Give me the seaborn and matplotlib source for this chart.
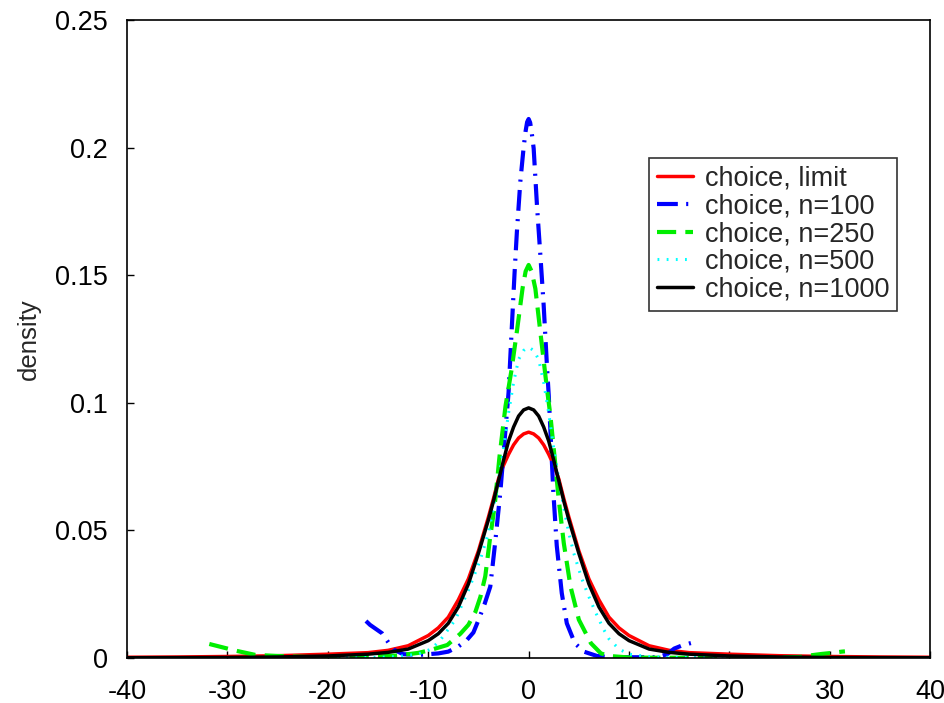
import matplotlib
matplotlib.use("Agg")
import matplotlib.pyplot as plt
import matplotlib.ticker as mticker
import numpy as np
import pandas as pd
import seaborn as sns

sns.set_style("ticks")
plt.rcParams["font.family"] = ["Liberation Sans", "DejaVu Sans"]
plt.rcParams["axes.unicode_minus"] = False

# values
limit_x = [-40, -35, -30, -25, -20, -16, -14, -12, -10, -9, -8, -7, -6, -5, -4, -3.5, -3, -2.5, -2, -1.5, -1, -0.5,
           0, 0.5, 1, 1.5, 2, 2.5, 3, 3.5, 4, 5, 6, 7, 8, 9, 10, 12, 14, 16, 20, 25, 30, 35, 40]
limit_y = [0.0003, 0.0004, 0.0006, 0.0009, 0.0015, 0.0021, 0.003, 0.0048, 0.0088, 0.0118, 0.016, 0.0228, 0.031,
           0.042, 0.0553, 0.0625, 0.0702, 0.0755, 0.0798, 0.0835, 0.0862, 0.0878,
           0.0885, 0.0878, 0.0862, 0.0835, 0.0798, 0.0755, 0.0702, 0.0625, 0.0553, 0.042, 0.031, 0.0228, 0.016,
           0.0118, 0.0088, 0.0048, 0.003, 0.0021, 0.0015, 0.0009, 0.0006, 0.0004, 0.0003]

n100_x = [-16.2, -15.8, -14.6, -13.5, -12.5, -11, -10, -9, -8, -7, -6.14, -5.5, -4.98, -4.4, -3.82, -3.32, -2.82,
          -2.4, -2, -1.67, -1.4, -1.17, -0.83, -0.5, -0.3, -0.15, 0, 0.15, 0.3, 0.5, 0.83, 1.17, 1.5, 1.83, 2.0,
          2.46, 2.8, 3.3, 3.8, 4.6, 5.5, 6.8, 8, 10, 12.8, 13.8, 14.5, 15.2, 16.1, 16.3]
n100_y = [0.0145, 0.013, 0.0097, 0.0034, 0.0015, 0.0012, 0.0015, 0.0018, 0.0025, 0.0045, 0.0071, 0.010, 0.015,
          0.021, 0.028, 0.0457, 0.065, 0.085, 0.104, 0.130, 0.151, 0.167, 0.1866, 0.200, 0.2065, 0.2100, 0.2112,
          0.2098, 0.2060, 0.1997, 0.1773, 0.1577, 0.138, 0.114, 0.103, 0.065, 0.044, 0.0254, 0.0136, 0.0058,
          0.0025, 0.0008, 0.0004, 0.0003, 0.0003, 0.0015, 0.0037, 0.0048, 0.0058, 0.006]

n250_x = [-31.8, -31.4, -29.2, -27.2, -25, -22, -20, -17, -14, -13, -11, -9.8, -8.1, -6.8, -6, -5.31, -4.8, -4.32,
          -3.82, -3.4, -2.9, -2.3, -1.7, -1.17, -0.6, -0.3, 0, 0.3, 0.67, 1.17, 1.83, 2.17, 2.6, 3, 3.5, 4.17, 5,
          6.2, 7.2, 8, 10, 13, 16, 20, 24, 27, 28, 29.2, 30.2, 31.2, 31.5]
n250_y = [0.0055, 0.0051, 0.0029, 0.0012, 0.0008, 0.0004, 0.0002, 0.0003, 0.0008, 0.001, 0.002, 0.0031, 0.0051,
          0.0095, 0.013, 0.018, 0.024, 0.032, 0.0477, 0.059, 0.079, 0.0988, 0.113, 0.128, 0.145, 0.1515, 0.154,
          0.1515, 0.1447, 0.1276, 0.1053, 0.0949, 0.078, 0.062, 0.045, 0.028, 0.015, 0.0058, 0.0018, 0.0008,
          0.0002, 0.0001, 0.0001, 0.0001, 0.0002, 0.0004, 0.001, 0.0016, 0.002, 0.0025, 0.0026]

n500_x = [-20, -15, -13, -11, -9.7, -8.8, -7.3, -5.98, -4.82, -4, -3.5, -3, -2.5, -2, -1.5, -1, -0.5, 0, 0.5, 1,
          1.5, 2, 2.5, 3, 3.5, 4, 4.5, 5.3, 6, 6.7, 7.5, 8, 9, 10, 12, 15, 20]
n500_y = [0.0001, 0.0002, 0.0006, 0.0015, 0.0035, 0.007, 0.015, 0.0267, 0.0385, 0.049, 0.059, 0.070, 0.082, 0.096,
          0.108, 0.117, 0.1205, 0.1218, 0.1205, 0.117, 0.108, 0.096, 0.082, 0.070, 0.059, 0.049, 0.041, 0.031,
          0.024, 0.0176, 0.011, 0.0075, 0.0035, 0.0015, 0.0005, 0.0002, 0.0001]

n1000_x = [-40, -35, -30, -25, -20, -16, -14, -12, -10, -9, -8, -7, -6, -5, -4, -3.5, -3, -2.5, -2, -1.5, -1, -0.5,
           0, 0.5, 1, 1.5, 2, 2.5, 3, 3.5, 4, 5, 6, 7, 8, 9, 10, 12, 14, 16, 20, 25, 30, 35, 40]
n1000_y = [0.0001, 0.00015, 0.0002, 0.0004, 0.0008, 0.0015, 0.0022, 0.0035, 0.0068, 0.0095, 0.0136, 0.020, 0.029,
           0.041, 0.0542, 0.0615, 0.0695, 0.0775, 0.085, 0.0905, 0.0948, 0.0972,
           0.098, 0.0972, 0.0948, 0.0905, 0.085, 0.0775, 0.0695, 0.0615, 0.0542, 0.041, 0.029, 0.020, 0.0136,
           0.0095, 0.0068, 0.0035, 0.0022, 0.0015, 0.0008, 0.0004, 0.0002, 0.00015, 0.0001]

labels = ["choice, limit", "choice, n=100", "choice, n=250", "choice, n=500", "choice, n=1000"]
colors = ["#ff0000", "#0000ff", "#00ee00", "#00ffff", "#000000"]
styles = ["-", (0, (5.0, 2.0, 0.5, 2.0)), (0, (4.6, 2.2)), (0, (0.6, 2.4)), "-"]
widths = [2.5, 3.0, 3.0, 2.2, 2.5]

series = [(limit_x, limit_y), (n100_x, n100_y), (n250_x, n250_y), (n500_x, n500_y), (n1000_x, n1000_y)]

fig = plt.figure(figsize=(9.44, 7.03), dpi=100)
ax = fig.add_axes([0.1345, 0.064, 0.851, 0.9076])

for (xs, ys), lab, col, ls, lw in zip(series, labels, colors, styles, widths):
    df = pd.DataFrame({"x": xs, "y": ys})
    sns.lineplot(data=df, x="x", y="y", ax=ax, color=col, linestyle=ls, linewidth=lw,
                 label=lab, estimator=None, sort=False)

ax.set_xlim(-40, 40)
ax.set_ylim(0, 0.25)
ax.set_xticks(np.arange(-40, 41, 10))
ax.set_yticks([0, 0.05, 0.1, 0.15, 0.2, 0.25])
ax.yaxis.set_major_formatter(mticker.FuncFormatter(lambda v, p: "%g" % round(v, 3)))
ax.tick_params(direction="in", length=5, width=1, labelsize=19.5, colors="black")
ax.tick_params(axis="x", pad=15)
ax.tick_params(axis="y", pad=14)
ax.set_xlabel("")
ax.set_ylabel("density", fontsize=18.5, labelpad=10)
for sp in ax.spines.values():
    sp.set_linewidth(1.2)
    sp.set_color("black")

leg = ax.legend(loc="upper right", bbox_to_anchor=(0.959, 0.784), borderaxespad=0, fontsize=19.5,
                handlelength=1.3, handletextpad=0.45, labelspacing=0.06, borderpad=0.3,
                frameon=True, fancybox=False, shadow=False)
leg.get_frame().set_edgecolor("black")
leg.get_frame().set_linewidth(1.2)

fig.savefig("out.png", dpi=100)
